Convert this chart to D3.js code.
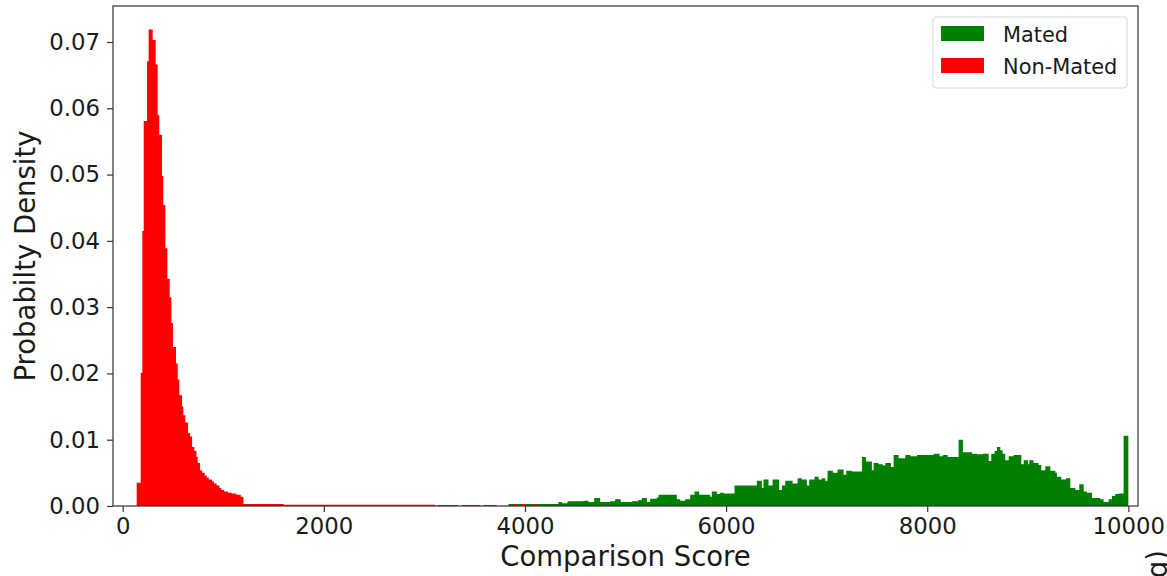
<!DOCTYPE html>
<html lang="en">
<head>
    <meta charset="UTF-8">
    <title>Comparison Score Histogram</title>
    <script src="https://d3js.org/d3.v7.min.js"></script>
    <style>
        body {
            margin: 0;
            background-color: #ffffff;
            font-family: "DejaVu Sans", sans-serif;
        }
        .tick text {
            font-family: "DejaVu Sans", sans-serif;
            font-size: 22.8px;
            fill: #1a1a1a;
        }
        .tick line {
            stroke: #333;
            stroke-width: 1.2px;
        }
        .axis-label {
            font-size: 27.5px;
            fill: #1a1a1a;
        }
        .legend text {
            font-size: 20.9px;
            fill: #1a1a1a;
        }
    </style>
</head>
<body>

<svg width="1167" height="576"></svg>
<script>
    // Non-Mated histogram (red): bin edges and density
    const redEdges = [139, 179, 195, 209, 242, 258, 298, 328, 348, 364, 391, 404, 424, 444, 467, 484, 500,
      530, 547, 563, 590, 603, 623, 650, 670, 690, 713, 733, 746, 769, 789, 816, 836, 856, 889, 909, 935,
      962, 982, 1009, 1048, 1085, 1131, 1174, 1200,
      1600, 3106, 3130, 3338, 3372, 3554, 3587, 3720, 3886, 3919, 3969, 4019, 4085, 4118];
    const redDensity = [0.0035, 0.0201, 0.0415, 0.0581, 0.0671, 0.0719, 0.0703, 0.0666, 0.0590, 0.0560,
      0.0498, 0.0454, 0.0389, 0.0343, 0.0315, 0.0276, 0.0240, 0.0215, 0.0191, 0.0167, 0.0150, 0.0137,
      0.0126, 0.0110, 0.0105, 0.0089, 0.0083, 0.0074, 0.0065, 0.0054, 0.0050, 0.0046, 0.0043, 0.0040,
      0.0037, 0.0034, 0.0031, 0.0027, 0.0024, 0.0022, 0.0020, 0.0019, 0.0017, 0.0014,
      0.0003, 0.0002, 0, 0.00015, 0, 0.00015, 0, 0.00015, 0, 0.0003, 0, 0.0003, 0, 0.0003];

    // Mated histogram (green)
    const greenEdges = [3836, 4333, 4367, 4423, 4582, 4632, 4688, 4748, 4847, 4897, 4953, 5063, 5129, 5162,
      5212, 5245, 5311, 5328, 5510, 5544, 5593, 5643, 5686, 5732, 5842, 5858, 5908, 5941, 5975, 6084, 6306,
      6356, 6372, 6422, 6462, 6528, 6555, 6588, 6661, 6711, 6754, 6803, 6827, 6880, 6920, 6953, 6986, 7009,
      7062, 7109, 7168, 7195, 7251, 7351, 7390, 7450, 7467, 7516, 7559, 7583, 7639, 7666, 7715, 7782, 7831,
      7898, 8063, 8123, 8156, 8203, 8312, 8355, 8445, 8494, 8551, 8611, 8637, 8670, 8693, 8727, 8750, 8776,
      8810, 8859, 8936, 8959, 9002, 9015, 9058, 9108, 9134, 9174, 9224, 9274, 9290, 9333, 9380, 9423, 9473,
      9512, 9556, 9589, 9638, 9721, 9754, 9804, 9837, 9870, 9904, 9953, 10000];
    const greenDensity = [0.0003, 0.0006, 0.0004, 0.0007, 0.0008, 0.0006, 0.0012, 0.0006, 0.0007, 0.0010,
      0.0006, 0.0007, 0.0009, 0.0012, 0.0006, 0.0011, 0.0013, 0.0017, 0.0010, 0.0008, 0.0010, 0.0017,
      0.0022, 0.0017, 0.0014, 0.0022, 0.0018, 0.0020, 0.0019, 0.0031, 0.0038, 0.0027, 0.0040, 0.0031,
      0.0040, 0.0024, 0.0031, 0.0038, 0.0034, 0.0042, 0.0040, 0.0031, 0.0040, 0.0044, 0.0040, 0.0042,
      0.0038, 0.0053, 0.0050, 0.0055, 0.0047, 0.0053, 0.0052, 0.0074, 0.0067, 0.0054, 0.0065, 0.0063,
      0.0061, 0.0065, 0.0059, 0.0077, 0.0072, 0.0077, 0.0075, 0.0077, 0.0079, 0.0075, 0.0077, 0.0074,
      0.0100, 0.0081, 0.0079, 0.0078, 0.0079, 0.0068, 0.0079, 0.0083, 0.0089, 0.0084, 0.0079, 0.0069,
      0.0075, 0.0077, 0.0063, 0.0069, 0.0063, 0.0069, 0.0065, 0.0062, 0.0054, 0.0060, 0.0053, 0.0050,
      0.0044, 0.0040, 0.0042, 0.0027, 0.0024, 0.0033, 0.0022, 0.0020, 0.0012, 0.0010, 0.0006, 0.0010,
      0.0015, 0.0018, 0.0019, 0.0106];

    const xTicks = [0, 2000, 4000, 6000, 8000, 10000];
    const yTicks = [0, 0.01, 0.02, 0.03, 0.04, 0.05, 0.06, 0.07];
    const seriesNames = ["Mated", "Non-Mated"];
    const seriesColors = ["green", "red"];

    const svg = d3.select("svg");
    const plot = {left: 113, right: 1138, top: 6, bottom: 506};

    const x = d3.scaleLinear().domain([-96.5, 10096]).range([plot.left, plot.right]);
    const y = d3.scaleLinear().domain([0, 0.07543]).range([plot.bottom, plot.top]);

    // turn edges + densities into step points
    function stepPoints(edges, dens) {
      const pts = dens.map((v, i) => [edges[i], v]);
      pts.push([edges[dens.length], dens[dens.length - 1]]);
      return pts;
    }

    const area = d3.area()
        .curve(d3.curveStepAfter)
        .x(d => x(d[0]))
        .y0(y(0))
        .y1(d => y(d[1]));

    // green first, red drawn on top
    svg.append("path")
        .datum(stepPoints(greenEdges, greenDensity))
        .attr("fill", seriesColors[0])
        .attr("d", area);

    svg.append("path")
        .datum(stepPoints(redEdges, redDensity))
        .attr("fill", seriesColors[1])
        .attr("d", area);

    // axes
    const xAxis = svg.append("g")
        .attr("transform", `translate(0,${plot.bottom})`)
        .call(d3.axisBottom(x).tickValues(xTicks).tickFormat(d3.format("d")).tickSize(6).tickPadding(6));
    xAxis.select(".domain").remove();

    const yAxis = svg.append("g")
        .attr("transform", `translate(${plot.left},0)`)
        .call(d3.axisLeft(y).tickValues(yTicks).tickFormat(d3.format(".2f")).tickSize(6).tickPadding(7));
    yAxis.select(".domain").remove();

    // frame (spines)
    svg.append("rect")
        .attr("x", plot.left)
        .attr("y", plot.top)
        .attr("width", plot.right - plot.left)
        .attr("height", plot.bottom - plot.top)
        .attr("fill", "none")
        .attr("stroke", "#333")
        .attr("stroke-width", 1.2);

    // axis labels
    svg.append("text")
        .attr("class", "axis-label")
        .attr("x", (plot.left + plot.right) / 2)
        .attr("y", 566)
        .attr("text-anchor", "middle")
        .text("Comparison Score");

    svg.append("text")
        .attr("class", "axis-label")
        .attr("transform", `translate(35,${(plot.top + plot.bottom) / 2}) rotate(-90)`)
        .attr("text-anchor", "middle")
        .text("Probabilty Density");

    // cut-off label of the neighbouring panel, bottom right (cut off in the original too)
    svg.append("text")
        .attr("class", "axis-label")
        .attr("transform", "translate(1167,550) rotate(-90)")
        .attr("text-anchor", "end")
        .text("(log)");

    // legend
    const legend = svg.append("g").attr("class", "legend");
    legend.append("rect")
        .attr("x", 933).attr("y", 17)
        .attr("width", 194).attr("height", 71)
        .attr("rx", 3)
        .attr("fill", "white")
        .attr("stroke", "#d6d6d6");

    seriesNames.forEach((name, i) => {
      legend.append("rect")
          .attr("x", 941).attr("y", 26 + i * 32)
          .attr("width", 43).attr("height", 15)
          .attr("fill", seriesColors[i]);
      legend.append("text")
          .attr("x", 1003).attr("y", 42 + i * 32)
          .text(name);
    });
</script>

</body>
</html>
